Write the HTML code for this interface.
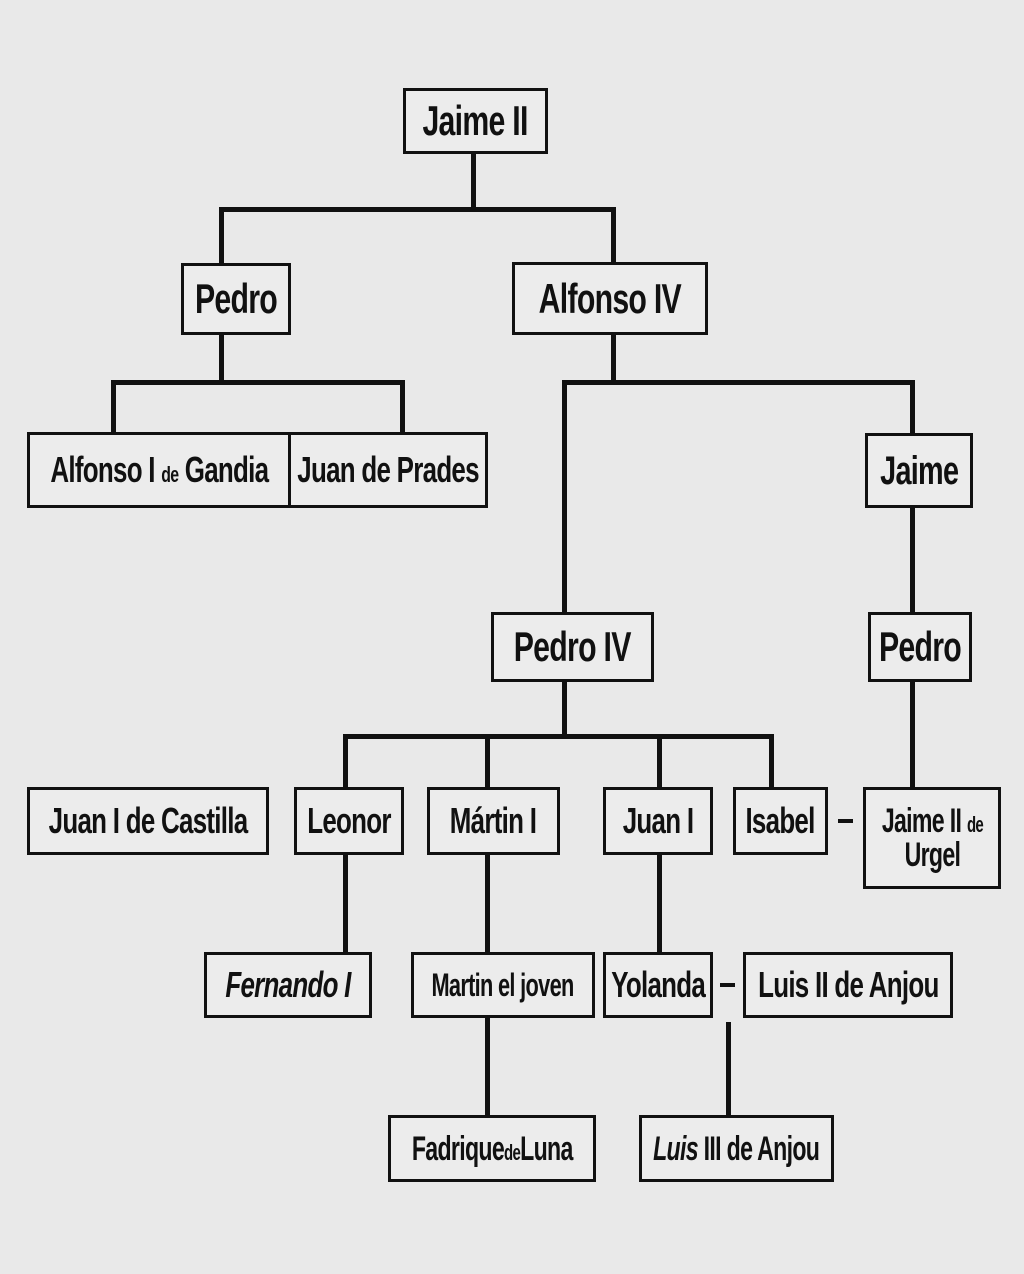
<!DOCTYPE html>
<html><head><meta charset="utf-8"><style>
html,body{margin:0;padding:0}
body{width:1024px;height:1274px;background:#e9e9e9;position:relative;overflow:hidden;
font-family:"Liberation Sans",sans-serif;}
.b{position:absolute;box-sizing:border-box;border:3px solid #111;background:#ececec;
display:flex;align-items:center;justify-content:center;text-align:center;font-weight:bold;
color:#111;font-size:36px;letter-spacing:-1px;line-height:1}
.b span{display:inline-block;white-space:nowrap;transform:scaleX(.72)}
.l{position:absolute;background:#111}
small{font-size:22px}
</style></head><body>
<div class="l" style="left:471px;top:154px;width:5px;height:57px"></div>
<div class="l" style="left:219px;top:207px;width:397px;height:5px"></div>
<div class="l" style="left:219px;top:207px;width:5px;height:56px"></div>
<div class="l" style="left:611px;top:207px;width:5px;height:55px"></div>

<div class="l" style="left:219px;top:335px;width:5px;height:49px"></div>
<div class="l" style="left:111px;top:380px;width:294px;height:5px"></div>
<div class="l" style="left:111px;top:380px;width:5px;height:52px"></div>
<div class="l" style="left:400px;top:380px;width:5px;height:52px"></div>

<div class="l" style="left:611px;top:335px;width:5px;height:49px"></div>
<div class="l" style="left:562px;top:380px;width:353px;height:5px"></div>
<div class="l" style="left:562px;top:380px;width:5px;height:232px"></div>
<div class="l" style="left:910px;top:380px;width:5px;height:53px"></div>
<div class="l" style="left:910px;top:508px;width:5px;height:104px"></div>
<div class="l" style="left:910px;top:682px;width:5px;height:105px"></div>

<div class="l" style="left:562px;top:682px;width:5px;height:56px"></div>
<div class="l" style="left:343px;top:734px;width:431px;height:5px"></div>
<div class="l" style="left:343px;top:734px;width:5px;height:53px"></div>
<div class="l" style="left:485px;top:734px;width:5px;height:53px"></div>
<div class="l" style="left:657px;top:734px;width:5px;height:53px"></div>
<div class="l" style="left:769px;top:734px;width:5px;height:53px"></div>

<div class="l" style="left:343px;top:855px;width:5px;height:97px"></div>
<div class="l" style="left:485px;top:855px;width:5px;height:97px"></div>
<div class="l" style="left:485px;top:1018px;width:5px;height:97px"></div>
<div class="l" style="left:657px;top:855px;width:5px;height:97px"></div>
<div class="l" style="left:838px;top:819px;width:15px;height:4px"></div>
<div class="l" style="left:720px;top:983px;width:15px;height:4px"></div>
<div class="l" style="left:726px;top:1022px;width:5px;height:93px"></div>

<div class="b" style="left:403px;top:88px;width:145px;height:66px;font-size:42px"><span>Jaime II</span></div>
<div class="b" style="left:181px;top:263px;width:110px;height:72px;font-size:42px"><span>Pedro</span></div>
<div class="b" style="left:512px;top:262px;width:196px;height:73px;font-size:42px"><span>Alfonso IV</span></div>
<div class="b" style="left:27px;top:432px;width:264px;height:76px"><span>Alfonso I <small>de</small> Gandia</span></div>
<div class="b" style="left:288px;top:432px;width:200px;height:76px"><span>Juan de Prades</span></div>
<div class="b" style="left:865px;top:433px;width:108px;height:75px;font-size:40px"><span>Jaime</span></div>
<div class="b" style="left:491px;top:612px;width:163px;height:70px;font-size:42px"><span>Pedro IV</span></div>
<div class="b" style="left:868px;top:612px;width:104px;height:70px;font-size:42px"><span>Pedro</span></div>
<div class="b" style="left:27px;top:787px;width:242px;height:68px"><span>Juan I de Castilla</span></div>
<div class="b" style="left:294px;top:787px;width:110px;height:68px"><span>Leonor</span></div>
<div class="b" style="left:427px;top:787px;width:133px;height:68px"><span>Mártin I</span></div>
<div class="b" style="left:603px;top:787px;width:110px;height:68px"><span>Juan I</span></div>
<div class="b" style="left:733px;top:787px;width:95px;height:68px"><span>Isabel</span></div>
<div class="b" style="left:863px;top:787px;width:138px;height:102px;font-size:34px"><span style="transform:scaleX(.68)">Jaime II <small>de</small><br>Urgel</span></div>
<div class="b" style="left:204px;top:952px;width:168px;height:66px;font-style:italic"><span>Fernando I</span></div>
<div class="b" style="left:411px;top:952px;width:184px;height:66px;font-size:32px"><span style="transform:scaleX(.68)">Martin el joven</span></div>
<div class="b" style="left:603px;top:952px;width:110px;height:66px"><span>Yolanda</span></div>
<div class="b" style="left:743px;top:952px;width:210px;height:66px"><span>Luis II de Anjou</span></div>
<div class="b" style="left:388px;top:1115px;width:208px;height:67px;font-size:34px"><span style="transform:scaleX(.68)">Fadrique<small>de</small>Luna</span></div>
<div class="b" style="left:639px;top:1115px;width:195px;height:67px;font-size:34px"><span style="transform:scaleX(.68)"><i>Luis</i> III de Anjou</span></div>
</body></html>
